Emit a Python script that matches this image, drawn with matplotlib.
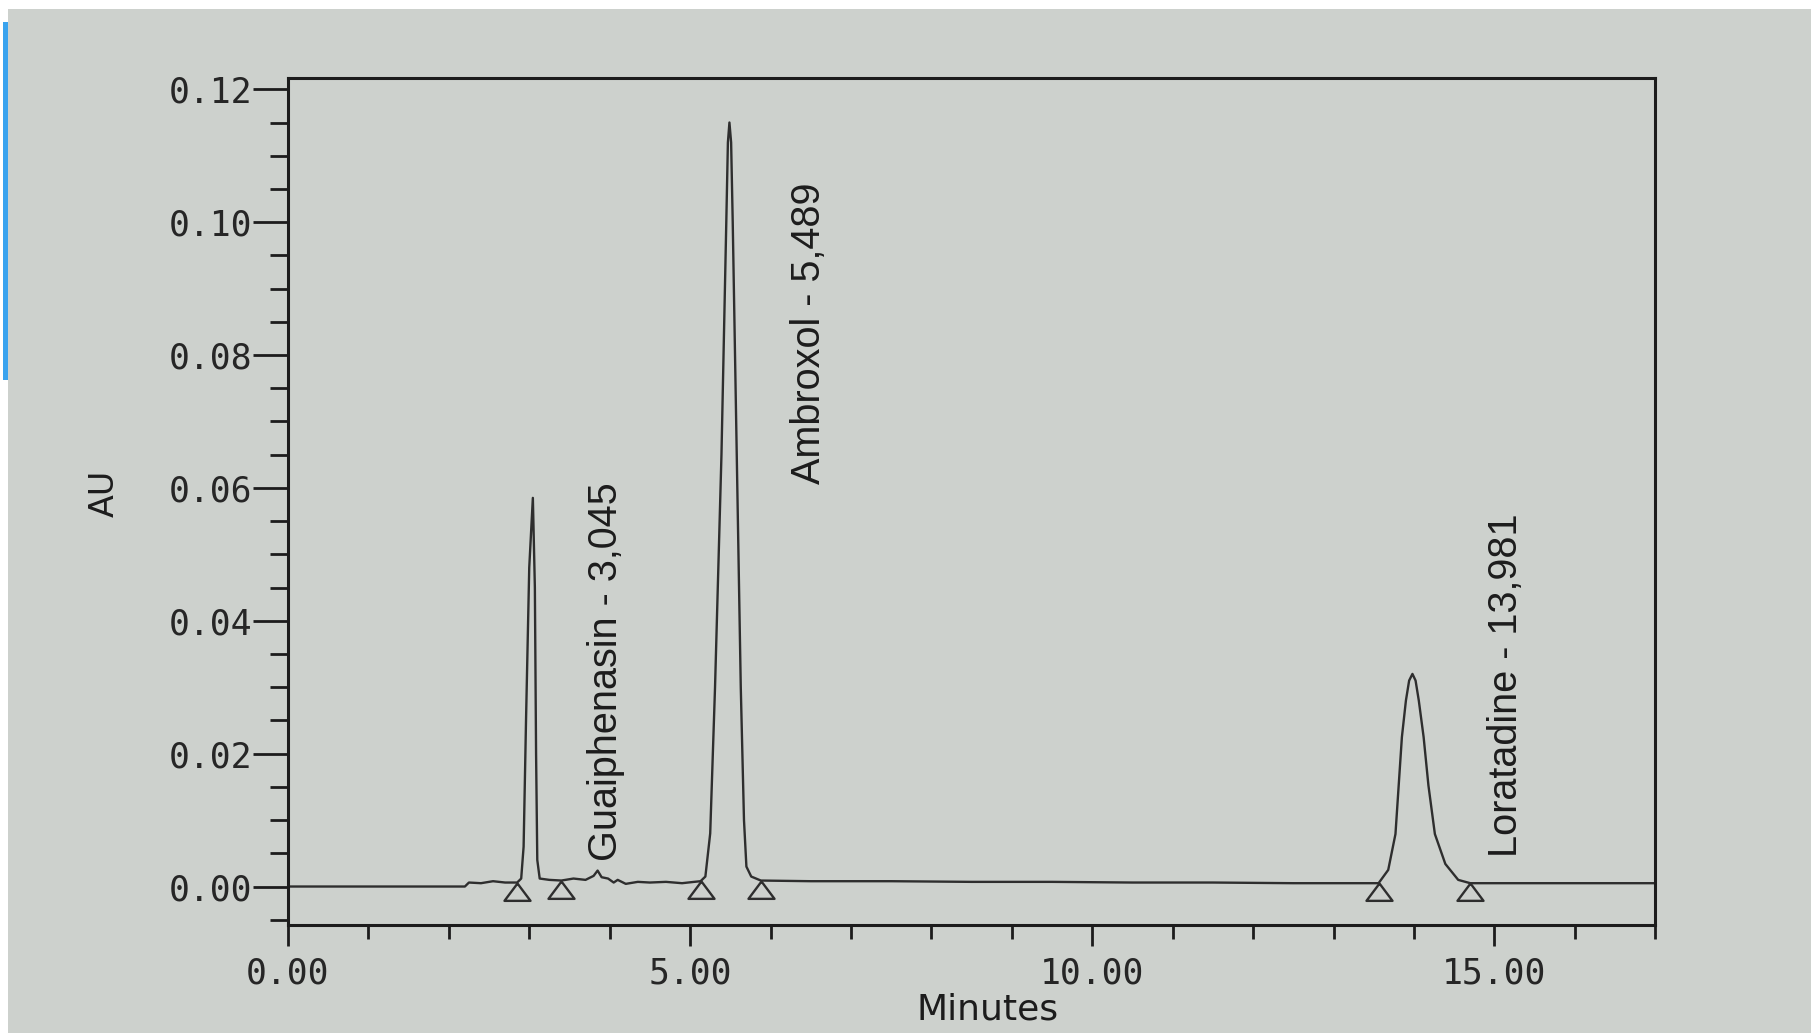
import matplotlib
matplotlib.use('Agg')
import matplotlib.pyplot as plt
from matplotlib import font_manager
from matplotlib.patches import Rectangle
from matplotlib.ticker import MultipleLocator, FormatStrFormatter

# chromatogram trace (minutes, AU)
time = [0.00, 2.20, 2.25, 2.40, 2.55, 2.70, 2.85, 2.90, 2.93, 2.96, 3.00, 3.045,
        3.07, 3.085, 3.10, 3.13, 3.25, 3.40, 3.55, 3.70, 3.80, 3.85, 3.90, 3.98,
        4.05, 4.10, 4.20, 4.35, 4.50, 4.70, 4.90, 5.05, 5.13, 5.19, 5.25, 5.31,
        5.39, 5.45, 5.47, 5.489, 5.51, 5.53, 5.58, 5.63, 5.67, 5.70, 5.76, 5.88,
        6.50, 7.50, 8.50, 9.50, 10.50, 11.50, 12.50, 13.56, 13.68, 13.77, 13.81,
        13.85, 13.90, 13.94, 13.981, 14.02, 14.06, 14.12, 14.18, 14.26, 14.39,
        14.55, 14.70, 15.50, 17.00]
absorb = [0.0000, 0.0000, 0.0006, 0.0005, 0.0008, 0.0006, 0.0006, 0.0012, 0.0060,
          0.0250, 0.0480, 0.0585, 0.0450, 0.0200, 0.0040, 0.0012, 0.0010, 0.0009,
          0.0012, 0.0010, 0.0016, 0.0024, 0.0014, 0.0012, 0.0006, 0.0010, 0.0004,
          0.0007, 0.0006, 0.0007, 0.0005, 0.0007, 0.0008, 0.0015, 0.0080, 0.0300,
          0.0650, 0.1000, 0.1120, 0.1150, 0.1120, 0.1000, 0.0650, 0.0300, 0.0100,
          0.0030, 0.0015, 0.0009, 0.0008, 0.0008, 0.0007, 0.0007, 0.0006, 0.0006,
          0.0005, 0.0005, 0.0025, 0.0079, 0.0152, 0.0225, 0.0280, 0.0310, 0.0320,
          0.0310, 0.0280, 0.0225, 0.0152, 0.0079, 0.0034, 0.0010, 0.0005, 0.0005,
          0.0005]

# peak labels
peak_names = ['Guaiphenasin', 'Ambroxol', 'Loratadine']
peak_rt = ['3,045', '5,489', '13,981']
label_x = [3.95, 6.48, 15.15]
label_y = [0.0039, 0.0606, 0.0045]

# integration start / end marks
mark_t = [2.85, 3.40, 5.13, 5.88, 13.56, 14.70]
mark_au = [0.0006, 0.0009, 0.0008, 0.0009, 0.0005, 0.0005]


def pick_font(names):
    for n in names:
        try:
            font_manager.findfont(n, fallback_to_default=False)
            return n
        except ValueError:
            pass
    return 'DejaVu Sans'


narrow = pick_font(['Liberation Sans Narrow', 'Liberation Sans'])
label_size = 34 if narrow == 'Liberation Sans Narrow' else 28.5
paper = '#cdd1cd'
ink = '#1c1c1c'

fig = plt.figure(figsize=(18.11, 10.33), dpi=100, facecolor=paper)
ax = fig.add_axes([0.159, 0.1045, 0.755, 0.820])
ax.patch.set_alpha(0)

ax.plot(time, absorb, color='#2e2e2e', lw=1.7)

# open triangles sitting under the baseline
tri = [(0, 0), (-0.75, -1), (0.75, -1), (0, 0)]
ax.plot(mark_t, mark_au, ls='none', marker=tri, ms=25, mfc='none',
        mec='#2e2e2e', mew=1.7)

for name, rt, x, y in zip(peak_names, peak_rt, label_x, label_y):
    ax.text(x, y, name + ' - ' + rt, rotation=90, ha='center', va='bottom',
            fontsize=label_size, family=narrow, color=ink)

ax.set_xlim(0, 17)
ax.set_ylim(-0.0058, 0.1217)
ax.xaxis.set_major_locator(MultipleLocator(5))
ax.xaxis.set_minor_locator(MultipleLocator(1))
ax.yaxis.set_major_locator(MultipleLocator(0.02))
ax.yaxis.set_minor_locator(MultipleLocator(0.005))
ax.xaxis.set_major_formatter(FormatStrFormatter('%.2f'))
ax.yaxis.set_major_formatter(FormatStrFormatter('%.2f'))

for s in ax.spines.values():
    s.set_linewidth(2.2)
    s.set_color(ink)

ax.tick_params(axis='y', which='major', length=25, width=2, pad=1, color=ink)
ax.tick_params(axis='y', which='minor', length=13, width=2, color=ink)
ax.tick_params(axis='x', which='major', length=15, width=2, pad=8, color=ink)
ax.tick_params(axis='x', which='minor', length=10, width=2, color=ink)
for lab in ax.get_xticklabels() + ax.get_yticklabels():
    lab.set_family('DejaVu Sans Mono')
    lab.set_fontsize(25)
    lab.set_color('#262626')

ax.set_xlabel('Minutes', fontsize=26, family='DejaVu Sans', color=ink)
ax.set_ylabel('AU', fontsize=24, family='DejaVu Sans', color=ink)
ax.xaxis.set_label_coords(0.512, -0.080)
ax.yaxis.set_label_coords(-0.122, 0.51)

# edges of the photographed page
fig.add_artist(Rectangle((0, 1 - 9 / 1033), 1, 9 / 1033, transform=fig.transFigure,
                         color='white', lw=0))
fig.add_artist(Rectangle((0, 0), 8 / 1811, 1, transform=fig.transFigure,
                         color='white', lw=0))
fig.add_artist(Rectangle((3 / 1811, 1 - 380 / 1033), 5 / 1811, 358 / 1033,
                         transform=fig.transFigure, color='#3aa3ee', lw=0))

fig.savefig('out.png', dpi=100, facecolor=paper)
